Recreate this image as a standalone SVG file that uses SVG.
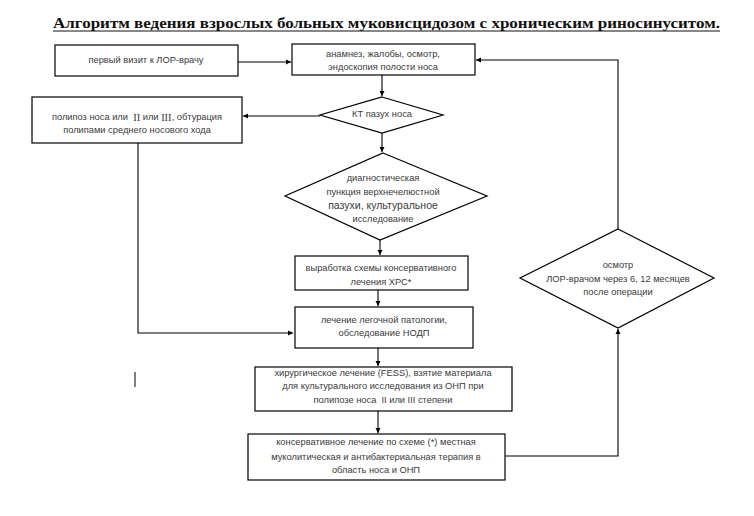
<svg xmlns="http://www.w3.org/2000/svg" width="754" height="516" viewBox="0 0 754 516">
<style>
.b{fill:#fff;stroke:#000;stroke-width:1.2}
.t{font-family:"Liberation Sans",Arial,sans-serif;font-size:9.3px;fill:#3a3a3a;text-anchor:middle;dominant-baseline:central}
.r{font-family:"Liberation Serif","Times New Roman",serif;font-size:10.5px}
.c{fill:none;stroke:#000;stroke-width:1.1}
.title{font-family:"Liberation Serif","Times New Roman",serif;font-size:15px;font-weight:bold;fill:#111}
</style>
<defs>
<marker id="a" markerWidth="6" markerHeight="6" refX="5" refY="3" orient="auto" markerUnits="userSpaceOnUse">
<path d="M0,0.5 L5,3 L0,5.5 Z" fill="#000"/>
</marker>
</defs>
<rect width="754" height="516" fill="#fff"/>
<g id="title">
<text class="title" x="53" y="28" textLength="667" lengthAdjust="spacingAndGlyphs">Алгоритм ведения взрослых больных муковисцидозом с хроническим риносинуситом.</text>
<line x1="53" y1="31" x2="720" y2="31" stroke="#111" stroke-width="1"/>
</g>
<g id="connectors">
<path class="c" d="M238,62 H291" marker-end="url(#a)"/>
<path class="c" d="M382,75 V96" marker-end="url(#a)"/>
<path class="c" d="M320,116 H243" marker-end="url(#a)"/>
<path class="c" d="M382,133 V152" marker-end="url(#a)"/>
<path class="c" d="M380,240 V255" marker-end="url(#a)"/>
<path class="c" d="M378,290 V306" marker-end="url(#a)"/>
<path class="c" d="M138,143 V333 H293" marker-end="url(#a)"/>
<path class="c" d="M378,348 V366" marker-end="url(#a)"/>
<path class="c" d="M378,411 V433" marker-end="url(#a)"/>
<path class="c" d="M505,456 H618 V329" marker-end="url(#a)"/>
<path class="c" d="M618,229 V60 H476" marker-end="url(#a)"/>
<line x1="135" y1="372" x2="135" y2="387" stroke="#000" stroke-width="1"/>
</g>
<g id="n1">
<rect class="b" x="55" y="45" width="183" height="31"/>
<text class="t" x="146" y="60">первый визит к ЛОР-врачу</text>
</g>
<g id="n2">
<rect class="b" x="292" y="44" width="183" height="31"/>
<text class="t" x="383" y="54">анамнез, жалобы, осмотр,</text>
<text class="t" x="383" y="67">эндоскопия полости носа</text>
</g>
<g id="n3">
<polygon class="b" points="382,97 443,115 382,133 320,115"/>
<text class="t" x="382" y="114">КТ пазух носа</text>
</g>
<g id="n4">
<rect class="b" x="32" y="97" width="210" height="46"/>
<text class="t" x="137" y="117">полипоз носа или &#160;<tspan class="r">II</tspan> или <tspan class="r">III</tspan>, обтурация</text>
<text class="t" x="137" y="130">полипами среднего носового хода</text>
</g>
<g id="n5">
<polygon class="b" points="383,153 487,196 380,240 285,196"/>
<text class="t" x="383" y="178">диагностическая</text>
<text class="t" x="383" y="192">пункция верхнечелюстной</text>
<text class="t" x="383" y="205" style="font-size:10.5px">пазухи, культуральное</text>
<text class="t" x="383" y="219">исследование</text>
</g>
<g id="n6">
<rect class="b" x="295" y="256" width="173" height="34"/>
<text class="t" x="381" y="268">выработка схемы консервативного</text>
<text class="t" x="381" y="282">лечения ХРС*</text>
</g>
<g id="n7">
<rect class="b" x="295" y="307" width="178" height="41"/>
<text class="t" x="384" y="320">лечение легочной патологии,</text>
<text class="t" x="384" y="333">обследование НОДП</text>
</g>
<g id="n8">
<rect class="b" x="255" y="367" width="257" height="44"/>
<text class="t" x="383" y="373">хирургическое лечение (FESS), взятие материала</text>
<text class="t" x="383" y="386">для культурального исследования из ОНП при</text>
<text class="t" x="383" y="400">полипозе носа &#160;II или III степени</text>
</g>
<g id="n9">
<rect class="b" x="248" y="434" width="257" height="46"/>
<text class="t" x="376" y="442">консервативное лечение по схеме (*) местная</text>
<text class="t" x="376" y="457">муколитическая и антибактериальная терапия в</text>
<text class="t" x="376" y="470">область носа и ОНП</text>
</g>
<g id="n10">
<polygon class="b" points="618,229 714,278 618,328 520,278"/>
<text class="t" x="618" y="265">осмотр</text>
<text class="t" x="618" y="279">ЛОР-врачом через 6, 12 месяцев</text>
<text class="t" x="618" y="292">после операции</text>
</g>
</svg>
